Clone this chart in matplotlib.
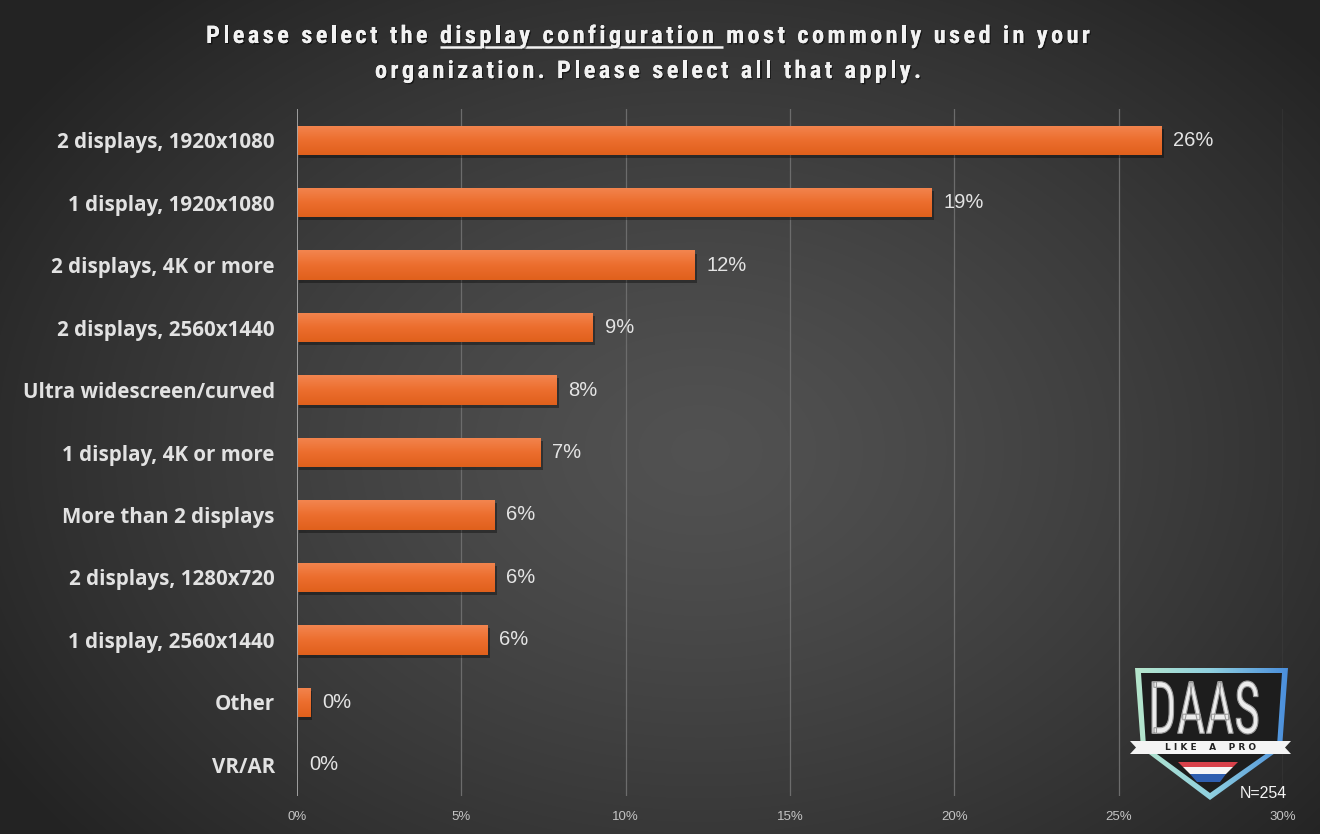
import numpy as np
import matplotlib.pyplot as plt
import matplotlib.patheffects as pe
from matplotlib.colors import LinearSegmentedColormap
from matplotlib.patches import Polygon, PathPatch
from matplotlib.textpath import TextPath
from matplotlib.font_manager import FontProperties
from matplotlib.transforms import Affine2D

categories = ['2 displays, 1920x1080', '1 display, 1920x1080', '2 displays, 4K or more',
              '2 displays, 2560x1440', 'Ultra widescreen/curved', '1 display, 4K or more',
              'More than 2 displays', '2 displays, 1280x720', '1 display, 2560x1440',
              'Other', 'VR/AR']
shares = [26.3, 19.3, 12.1, 9.0, 7.9, 7.4, 6.0, 6.0, 5.8, 0.4, 0.0]
x_ticks = [0, 5, 10, 15, 20, 25, 30]
title_pre = 'Please select the '
title_ul = 'display configuration '
title_post = 'most commonly used in your'
title_line2 = 'organization. Please select all that apply.'
n_resp = 254

W, H = 1320, 834
fig = plt.figure(figsize=(W / 100, H / 100), dpi=100)

# radial dark-grey backdrop
bg = fig.add_axes([0, 0, 1, 1], zorder=0)
yy, xx = np.mgrid[0:H, 0:W]
r = np.clip(np.sqrt(((xx - 700) / 820) ** 2 + ((yy - 450) / 600) ** 2), 0, 1)
shade = 0.32 - 0.18 * r ** 1.3
bg.imshow(np.dstack([shade] * 3), extent=(0, W, H, 0), aspect='auto', interpolation='bilinear')
bg.set_xlim(0, W)
bg.set_ylim(H, 0)
bg.axis('off')

# main bar axes
ax = fig.add_axes([297 / W, 1 - 796 / H, 986 / W, 687 / H], zorder=1)
ax.patch.set_alpha(0)
ys = np.arange(len(categories))
bh = 0.47

ax.barh(ys + 0.05, shares, height=bh, left=0.07, color='black', alpha=0.35, zorder=2)
bars = ax.barh(ys, shares, height=bh, color='#ea6a2c', zorder=3)

orange = LinearSegmentedColormap.from_list('orange', ['#f3854f', '#ec6e2e', '#e0601c'])
grad = np.linspace(0, 1, 64).reshape(-1, 1)
for bar, y, v in zip(bars, ys, shares):
    if v <= 0:
        continue
    im = ax.imshow(grad, cmap=orange, extent=(0, v, y + bh / 2, y - bh / 2),
                   aspect='auto', zorder=4, interpolation='bilinear')
    im.set_clip_path(bar)

for y, v in zip(ys, shares):
    ax.text(v + 0.36, y, f'{v:.0f}%', va='center', ha='left', fontsize=14.5,
            color='#e4e4e4', family=['Liberation Sans', 'DejaVu Sans'], zorder=5)

for t in x_ticks[1:]:
    ax.axvline(t, color='#6c6c6c', lw=0.9, zorder=1)
ax.axvline(0, color='#a8a8a8', lw=1.3, zorder=5)

ax.set_xlim(0, 30)
ax.set_ylim(len(categories) - 0.5, -0.5)
ax.set_xticks(x_ticks)
ax.set_xticklabels([f'{t}%' for t in x_ticks], color='#c4c4c4', fontsize=9.5,
                   family=['Liberation Sans', 'DejaVu Sans'])
ax.set_yticks(ys)
ax.set_yticklabels(categories, color='#e2e2e2', fontsize=14.8, fontweight='bold',
                   family=['Open Sans', 'Roboto', 'DejaVu Sans'])
ax.tick_params(axis='x', length=0, pad=11)
ax.tick_params(axis='y', length=0, pad=16)
for s in ax.spines.values():
    s.set_visible(False)

# overlay in pixel coordinates: title, logo, respondent count
top = fig.add_axes([0, 0, 1, 1], zorder=3)
top.set_xlim(0, W)
top.set_ylim(H, 0)
top.axis('off')
top.patch.set_alpha(0)

# letter-spaced title, drawn glyph by glyph
tfont = dict(fontsize=17.5, fontweight='bold', color='#f2f2f2',
             family=['Roboto Condensed', 'Roboto', 'DejaVu Sans'])
shadow = [pe.withSimplePatchShadow(offset=(1, -1), shadow_rgbFace='black', alpha=0.5), pe.Normal()]
track = 3.4
renderer = fig.canvas.get_renderer()
_adv = {}


def advance(c):
    if c not in _adv:
        tmp = top.text(0, 0, 'a' + c + 'a', **tfont)
        w1 = tmp.get_window_extent(renderer).width
        tmp.set_text('aa')
        w0 = tmp.get_window_extent(renderer).width
        tmp.remove()
        _adv[c] = w1 - w0
    return _adv[c]


def spaced_line(s, xc, base):
    widths = [advance(c) + track for c in s]
    total = sum(widths) - track
    x = xc - total / 2
    xs = []
    for c, w in zip(s, widths):
        xs.append(x)
        if c != ' ':
            top.text(x, base, c, ha='left', va='baseline', path_effects=shadow, **tfont)
        x += w
    return xs + [x]


line1 = title_pre + title_ul + title_post
xs1 = spaced_line(line1, 648, 43)
spaced_line(title_line2, 648, 78)
i0 = len(title_pre)
i1 = len(title_pre + title_ul)
top.plot([xs1[i0], xs1[i1] - track], [47, 47], color='#f2f2f2', lw=1.8, solid_capstyle='butt')

# shield logo
outer = Polygon([(1135, 668), (1288, 668), (1282, 748), (1210, 800), (1141, 748)],
                closed=True, facecolor='none', edgecolor='none')
top.add_patch(outer)
sg = LinearSegmentedColormap.from_list('shield', ['#b6e6cc', '#8fd0e0', '#4b8fdc'])
gim = top.imshow(np.linspace(0, 1, 64).reshape(1, -1), cmap=sg,
                 extent=(1135, 1288, 800, 668), aspect='auto', zorder=2)
gim.set_clip_path(outer)
top.add_patch(Polygon([(1141, 673), (1282, 673), (1277, 746), (1210, 793), (1146, 746)],
                      closed=True, facecolor='#1d1d1d', edgecolor='none', zorder=3))

# condensed DAAS lettering, stretched into its box
tp = TextPath((0, 0), 'DAAS', size=50, prop=FontProperties(family=['Roboto Condensed', 'Roboto', 'DejaVu Sans']))
bb = tp.get_extents()
sx = (1258 - 1152) / bb.width
sy = (734 - 681) / bb.height
tr = Affine2D().translate(-bb.x0, -bb.y0).scale(sx, -sy).translate(1152, 734)
top.add_patch(PathPatch(tr.transform_path(tp), facecolor='#ececec', edgecolor='#9c9c9c',
                        lw=0.8, zorder=4))

top.add_patch(Polygon([(1130, 741), (1291, 741), (1285, 747.5), (1291, 754), (1130, 754),
                       (1136, 747.5)], closed=True, facecolor='#f4f4f4', edgecolor='none', zorder=4))
top.text(1211, 748, 'L I K E    A    P R O', ha='center', va='center', fontsize=6.5,
         fontweight='bold', color='#222222', family=['DejaVu Sans'], zorder=5)

top.add_patch(Polygon([(1178, 762), (1238, 762), (1233, 767), (1183, 767)],
                      closed=True, facecolor='#d8414a', edgecolor='none', zorder=4))
top.add_patch(Polygon([(1183, 767), (1233, 767), (1226, 774), (1190, 774)],
                      closed=True, facecolor='#f6f6f6', edgecolor='none', zorder=4))
top.add_patch(Polygon([(1190, 774), (1226, 774), (1220, 782), (1197, 782)],
                      closed=True, facecolor='#2f5fb0', edgecolor='none', zorder=4))

top.text(1287, 798, f'N={n_resp}', ha='right', va='baseline', fontsize=11.5,
         color='#f4f4f4', family=['Liberation Sans', 'DejaVu Sans'], zorder=6)

fig.savefig('out.png', dpi=100)
